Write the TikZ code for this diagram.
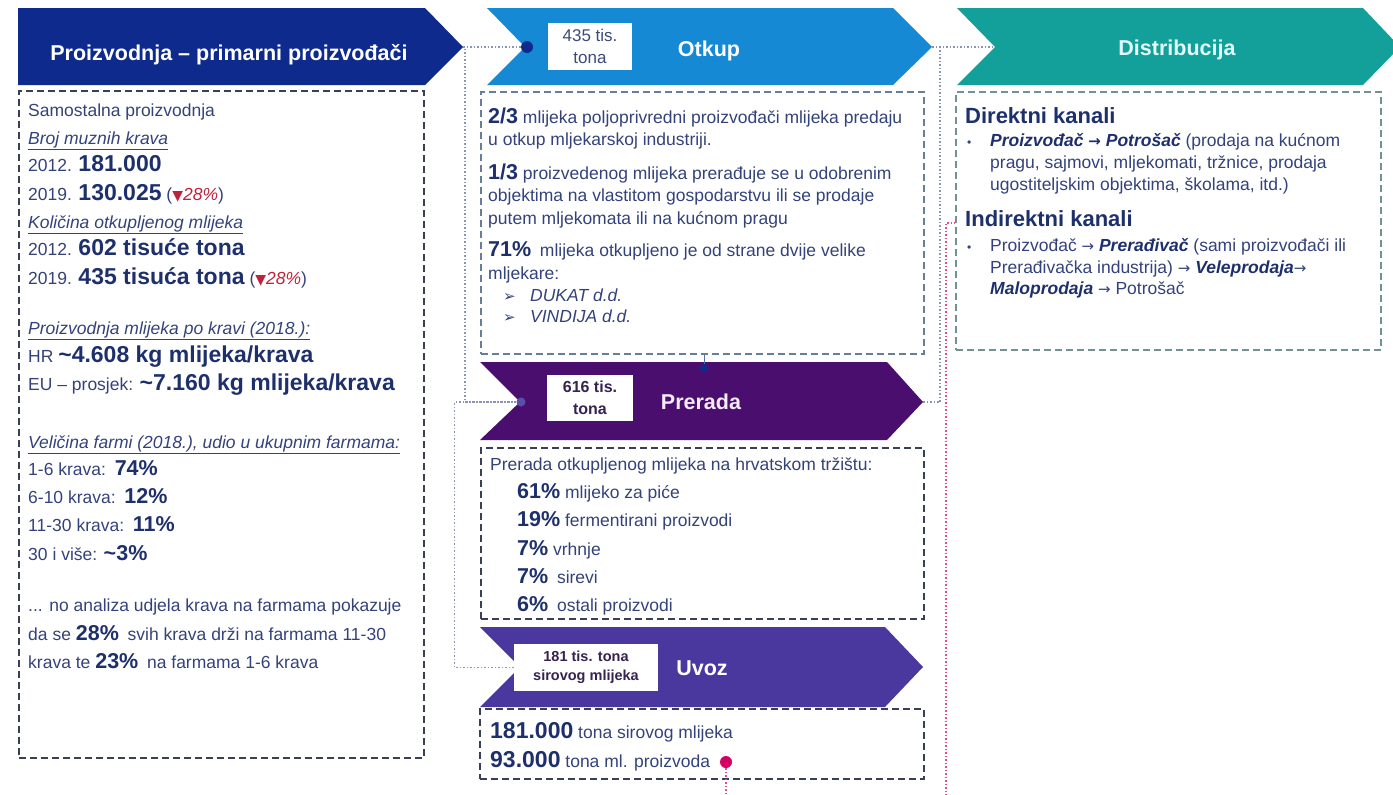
\documentclass[tikz,border=0pt]{standalone}
\usepackage{fontspec}
\setmainfont{Liberation Sans}
\newfontfamily\symf{DejaVu Sans}
\definecolor{navy}{RGB}{14,42,140}
\definecolor{otkupc}{RGB}{22,137,212}
\definecolor{preradac}{RGB}{74,14,110}
\definecolor{uvozc}{RGB}{74,56,158}
\definecolor{tealc}{RGB}{19,160,154}
\definecolor{txtc}{RGB}{52,66,122}
\definecolor{numc}{RGB}{30,48,108}
\definecolor{redc}{RGB}{190,35,60}
\definecolor{pinkc}{RGB}{212,0,100}
\definecolor{dashc}{RGB}{58,64,84}
\definecolor{dashb}{RGB}{105,125,150}
\definecolor{dasht}{RGB}{115,145,145}
\definecolor{conc}{RGB}{140,148,182}
\definecolor{pdotc}{RGB}{90,80,170}
\definecolor{lblc}{RGB}{60,75,120}
\definecolor{lblp}{RGB}{55,35,80}
\definecolor{htea}{RGB}{228,250,250}
\definecolor{hlav}{RGB}{245,235,250}
\newcommand\rgf{\fontsize{17.5}{20}\selectfont}
\newcommand\bnum[1]{{\fontsize{23}{25}\selectfont\bfseries\color{numc}#1}}
\newcommand\mnum[1]{{\fontsize{21.5}{24}\selectfont\bfseries\color{numc}#1}}
\newcommand\dnmark{{\color{txtc}(}{\symf\fontsize{14}{14}\selectfont\color{redc}▼}{\color{redc}\itshape 28\%}{\color{txtc})}}
\newcommand\uli[1]{\underline{\textit{#1}}}
\newcommand\bi[1]{{\bfseries\itshape\color{numc}#1}}
\newcommand\rarr{{\symf\fontsize{15}{15}\selectfont →}}
\newcommand\brarr{{\symf\bfseries\fontsize{15}{15}\selectfont →}}
\tikzset{
  txt/.style={anchor=base west, inner sep=0pt, text=txtc, font=\rgf},
  head/.style={anchor=base west, inner sep=0pt, text=numc, font=\fontsize{22}{24}\selectfont\bfseries},
  panel/.style={draw=dashc, line width=1.9pt, dash pattern=on 7pt off 4pt, anchor=north west, inner sep=0pt},
  conn/.style={draw=conc, line width=1.3pt, dash pattern=on 1.5pt off 2pt},
  pconn/.style={draw=pinkc!70, line width=1.3pt, dash pattern=on 1.5pt off 2pt},
  hdr/.style={anchor=base, inner sep=0pt, text=white, font=\fontsize{21.5}{24}\selectfont\bfseries},
  lbl/.style={fill=white, inner sep=0pt, align=center},
  dot/.style={circle, inner sep=0pt},
}
\begin{document}
\begin{tikzpicture}[x=1pt,y=-1pt]
\useasboundingbox (0,0) rectangle (1393,795);
\clip (0,0) rectangle (1393,795);

% chevrons
\fill[navy] (18,8) -- (425,8) -- (463,47) -- (425,85) -- (18,85) -- cycle;
\fill[otkupc] (487,8) -- (893,8) -- (932,47) -- (893,85) -- (487,85) -- (525,47) -- cycle;
\fill[tealc] (957,8) -- (1363,8) -- (1400,47) -- (1363,85) -- (957,85) -- (995,47) -- cycle;
\fill[preradac] (480,362) -- (887,362) -- (923,402) -- (887,440) -- (480,440) -- (520,402) -- cycle;
\fill[uvozc] (480,627) -- (885,627) -- (923,667) -- (885,707) -- (480,707) -- (520,667) -- cycle;

\coordinate (ptip) at (463,47);
\coordinate (otip) at (932,47);
\coordinate (dnotch) at (995,47);
\coordinate (prtip) at (923,402);
\coordinate (indk) at (955,223);

% header texts
\node[hdr] (h1) at (229,60) {Proizvodnja – primarni proizvođači};
\node[hdr] (h2) at (709,56) {Otkup};
\node[hdr, text=htea] (h3) at (1177,55) {Distribucija};
\node[hdr, text=hlav] (h4) at (701,409) {Prerada};
\node[hdr] (h5) at (702,675) {Uvoz};

% label boxes
\node[lbl, minimum width=84pt, minimum height=47pt, text=lblc, font=\fontsize{17}{21.7}\selectfont] (l435) at (590,46.5) {435 tis.\\tona};
\node[lbl, minimum width=86pt, minimum height=46pt, text=lblp, font=\fontsize{16}{21.7}\selectfont\bfseries] (l616) at (590,398) {616 tis.\\tona};
\node[lbl, minimum width=144pt, minimum height=47pt, text=lblp, font=\fontsize{14.5}{19.4}\selectfont\bfseries] (l181) at (586,667.5) {181 tis. tona\\sirovog mlijeka};

% panels
\node[panel, minimum width=405pt, minimum height=667pt] (ppanel) at (18,90) {};
\node[panel, draw=dashb, minimum width=443pt, minimum height=262pt] (opanel) at (480,91) {};
\node[panel, minimum width=443pt, minimum height=171pt] (prpanel) at (480,447) {};
\node[panel, minimum width=444pt, minimum height=70pt] (upanel) at (479,708) {};
\node[panel, draw=dasht, minimum width=425pt, minimum height=258pt] (dpanel) at (955,91) {};

% dots
\node[dot, fill=navy, minimum size=12pt] (odot) at (527,47) {};
\node[dot, fill=pdotc, minimum size=9pt] (pdot) at (521,402) {};
\node[dot, fill=navy, minimum size=8pt] (gdot) at (704,368) {};
\node[dot, fill=pinkc, minimum size=12pt] (udot) at (726,762) {};

% connectors
\draw[conn] (ptip) -- (odot);
\draw[conn] (ptip) -- ++(2,0) |- (pdot);
\draw[conn] (l181.west) -- ++(-59,0) |- (pdot);
\draw[conn] (otip) -- (dnotch);
\draw[conn] (prtip) -- ++(17,0) |- (dnotch);
\draw[pconn] (udot) -- (726,805) -| (946,223) -- (indk);
\draw[draw=navy!70, line width=1pt] (opanel.south -| gdot) -- (gdot);

% left panel text
\node[txt] (a1) at (28,116.7) {Samostalna proizvodnja};
\node[txt] (a2) at (28,144) {\uli{Broj muznih krava}};
\node[txt] (a3) at (28,171.7) {2012. \bnum{181.000}};
\node[txt] (a4) at (28,200) {2019. \bnum{130.025} \dnmark};
\node[txt] (a5) at (28,228) {\uli{Količina otkupljenog mlijeka}};
\node[txt] (a6) at (28,255.7) {2012. \bnum{602 tisuće tona}};
\node[txt] (a7) at (28,284) {2019. \bnum{435 tisuća tona} \dnmark};
\node[txt] (a8) at (28,334) {\uli{Proizvodnja mlijeka po kravi (2018.):}};
\node[txt] (a9) at (28,362.7) {HR \bnum{\textasciitilde 4.608 kg mlijeka/krava}};
\node[txt] (a10) at (28,390) {EU – prosjek: \bnum{\textasciitilde 7.160 kg mlijeka/krava}};
\node[txt] (a11) at (28,448) {\uli{Veličina farmi (2018.), udio u ukupnim farmama:}};
\node[txt] (a12) at (28,475) {1-6 krava:\enspace\mnum{74\%}};
\node[txt] (a13) at (28,503) {6-10 krava:\enspace\mnum{12\%}};
\node[txt] (a14) at (28,531.7) {11-30 krava:\enspace\mnum{11\%}};
\node[txt] (a15) at (28,560) {30 i više: \mnum{\textasciitilde 3\%}};
\node[txt] (a16) at (28,611.7) {... no analiza udjela krava na farmama pokazuje};
\node[txt] (a17) at (28,640) {da se \mnum{28\%}\enspace svih krava drži na farmama 11-30};
\node[txt] (a18) at (28,668) {krava te \mnum{23\%}\enspace na farmama 1-6 krava};

% otkup panel text
\node[txt] (b1) at (488,123.3) {\mnum{2/3} mlijeka poljoprivredni proizvođači mlijeka predaju};
\node[txt] (b2) at (488,145.7) {u otkup mljekarskoj industriji.};
\node[txt] (b3) at (488,179) {\mnum{1/3} proizvedenog mlijeka prerađuje se u odobrenim};
\node[txt] (b4) at (488,201.7) {objektima na vlastitom gospodarstvu ili se prodaje};
\node[txt] (b5) at (488,224) {putem mljekomata ili na kućnom pragu};
\node[txt] (b6) at (488,256.7) {\mnum{71\%}\enspace mlijeka otkupljeno je od strane dvije velike};
\node[txt] (b7) at (488,279.3) {mljekare:};
\node[txt, font=\symf\fontsize{15}{15}\selectfont] (b8s) at (503,301.7) {➢};
\node[txt] (b8) at (530,301.7) {\textit{DUKAT d.d.}};
\node[txt, font=\symf\fontsize{15}{15}\selectfont] (b9s) at (503,322.7) {➢};
\node[txt] (b9) at (530,322.7) {\textit{VINDIJA d.d.}};

% prerada panel text
\node[txt] (c1) at (490,470.7) {Prerada otkupljenog mlijeka na hrvatskom tržištu:};
\node[txt] (c2) at (517,498.3) {\mnum{61\%} mlijeko za piće};
\node[txt] (c3) at (517,526.7) {\mnum{19\%} fermentirani proizvodi};
\node[txt] (c4) at (517,555) {\mnum{7\%} vrhnje};
\node[txt] (c5) at (517,583.3) {\mnum{7\%}\enspace sirevi};
\node[txt] (c6) at (517,611.7) {\mnum{6\%}\enspace ostali proizvodi};

% uvoz panel text
\node[txt] (d1) at (490,738.3) {\bnum{181.000} tona sirovog mlijeka};
\node[txt] (d2) at (490,767.3) {\bnum{93.000} tona ml. proizvoda};

% distribucija panel text
\node[head] (e1) at (965,123.3) {Direktni kanali};
\node[txt, font=\fontsize{12}{14}\selectfont] (e2b) at (967,146) {•};
\node[txt] (e2) at (990,146) {\bi{Proizvođač \brarr\ Potrošač} (prodaja na kućnom};
\node[txt] (e3) at (990,168.3) {pragu, sajmovi, mljekomati, tržnice, prodaja};
\node[txt] (e4) at (990,190) {ugostiteljskim objektima, školama, itd.)};
\node[head] (e5) at (965,226.7) {Indirektni kanali};
\node[txt, font=\fontsize{12}{14}\selectfont] (e6b) at (967,251) {•};
\node[txt] (e6) at (990,251) {Proizvođač \rarr\ \bi{Prerađivač} (sami proizvođači ili};
\node[txt] (e7) at (990,273.3) {Prerađivačka industrija) \rarr\ \bi{Veleprodaja}\rarr};
\node[txt] (e8) at (990,294) {\bi{Maloprodaja} \rarr\ Potrošač};
\end{tikzpicture}
\end{document}
